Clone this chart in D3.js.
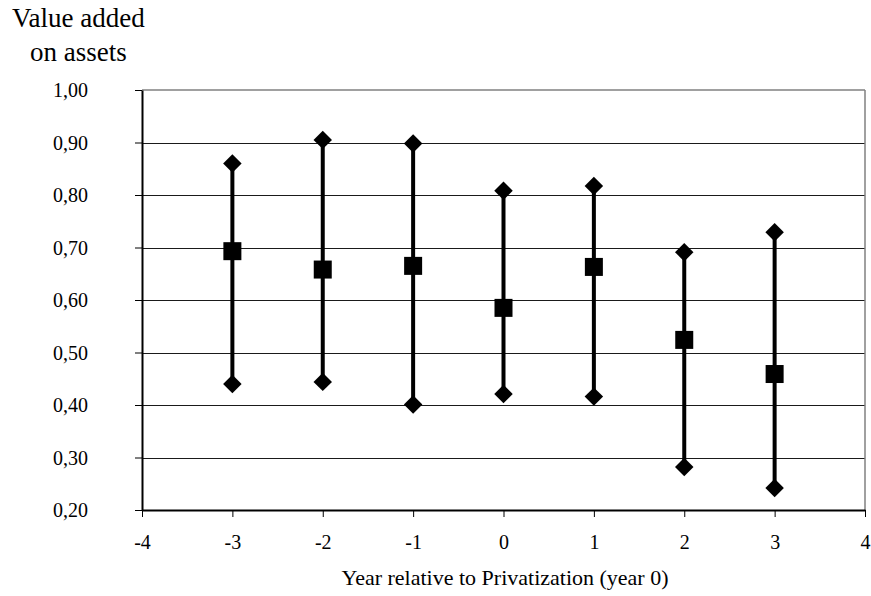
<!DOCTYPE html>
<html>
<head>
<meta charset="utf-8">
<script src="https://cdn.jsdelivr.net/npm/d3@7"></script>
<style>
  html, body { margin: 0; padding: 0; background: #fff; }
  svg { display: block; }
  svg text { font-family: 'Liberation Serif', 'Times New Roman', Times, serif; fill: #000; }
</style>
</head>
<body>
<svg id="chart" width="871" height="596"></svg>
<script>
const years = [-3, -2, -1, 0, 1, 2, 3];
const highValues = [0.860, 0.905, 0.898, 0.808, 0.817, 0.691, 0.729];
const meanValues = [0.693, 0.658, 0.665, 0.585, 0.663, 0.524, 0.459];
const lowValues  = [0.440, 0.444, 0.401, 0.421, 0.416, 0.282, 0.242];
const xTicks = [-4, -3, -2, -1, 0, 1, 2, 3, 4];
const yTicks = [0.2, 0.3, 0.4, 0.5, 0.6, 0.7, 0.8, 0.9, 1.0];

const SERIF = "'Liberation Serif', 'Times New Roman', Times, serif";
const svg = d3.select("#chart").style("font-family", SERIF);
const pLeft = 142, pRight = 865, pTop = 90, pBottom = 510;

const x = d3.scaleLinear().domain([-4, 4]).range([pLeft, pRight]);
const y = d3.scaleLinear().domain([0.2, 1.0]).range([pBottom, pTop]);
const fmt = v => d3.format(".2f")(v).replace(".", ",");

// gridlines
svg.append("g").selectAll("line")
  .data(yTicks.filter(v => v > 0.2 && v < 1.0))
  .join("line")
  .attr("x1", pLeft).attr("x2", pRight)
  .attr("y1", d => Math.round(y(d)) + 0.5).attr("y2", d => Math.round(y(d)) + 0.5)
  .attr("stroke", "#1a1a1a").attr("stroke-width", 1);

// top & right border (gray)
svg.append("line").attr("x1", pLeft).attr("x2", pRight).attr("y1", pTop).attr("y2", pTop)
  .attr("stroke", "#808080").attr("stroke-width", 1.5);
svg.append("line").attr("x1", pRight).attr("x2", pRight).attr("y1", pTop).attr("y2", pBottom)
  .attr("stroke", "#808080").attr("stroke-width", 1.5);

// y axis
const yAxis = d3.axisLeft(y).tickValues(yTicks).tickFormat(fmt).tickSize(7).tickPadding(47).tickSizeOuter(0);
const gy = svg.append("g").attr("transform", `translate(${pLeft},0)`).call(yAxis);
gy.attr("font-family", null).style("font-family", SERIF);
gy.select(".domain").attr("stroke", "#000").attr("stroke-width", 2);
gy.selectAll(".tick line").attr("stroke", "#000").attr("stroke-width", 1);
gy.selectAll(".tick text").attr("font-size", 20).style("font-family", SERIF).attr("dy", "0.33em");

// x axis
const xAxis = d3.axisBottom(x).tickValues(xTicks).tickFormat(d => d3.format("d")(d).replace("−", "-")).tickSize(7).tickPadding(18).tickSizeOuter(0);
const gx = svg.append("g").attr("transform", `translate(0,${pBottom})`).call(xAxis);
gx.attr("font-family", null).style("font-family", SERIF);
gx.select(".domain").attr("stroke", "#000").attr("stroke-width", 2);
gx.selectAll(".tick line").attr("stroke", "#000").attr("stroke-width", 1);
gx.selectAll(".tick text").attr("font-size", 20).style("font-family", SERIF);

// stems
const data = years.map((yr, i) => ({ yr, hi: highValues[i], mean: meanValues[i], lo: lowValues[i] }));
svg.append("g").selectAll("line")
  .data(data).join("line")
  .attr("x1", d => x(d.yr)).attr("x2", d => x(d.yr))
  .attr("y1", d => y(d.hi)).attr("y2", d => y(d.lo))
  .attr("stroke", "#000").attr("stroke-width", 4);

// diamonds
const diamond = d3.symbol().type(d3.symbolSquare).size(170);
const ends = data.flatMap(d => [{ yr: d.yr, v: d.hi }, { yr: d.yr, v: d.lo }]);
svg.append("g").selectAll("path")
  .data(ends).join("path")
  .attr("d", diamond)
  .attr("transform", d => `translate(${x(d.yr)},${y(d.v)}) rotate(45)`)
  .attr("fill", "#000");

// squares
svg.append("g").selectAll("rect")
  .data(data).join("rect")
  .attr("x", d => x(d.yr) - 9).attr("y", d => y(d.mean) - 9)
  .attr("width", 18).attr("height", 18)
  .attr("fill", "#000");

// titles
svg.append("text").attr("x", 12).attr("y", 27).attr("font-size", 27).style("font-family", SERIF).text("Value added");
svg.append("text").attr("x", 30).attr("y", 61).attr("font-size", 27).style("font-family", SERIF).text("on assets");
svg.append("text").attr("x", 505).attr("y", 585).attr("text-anchor", "middle")
  .attr("font-size", 22).style("font-family", SERIF).text("Year relative to Privatization (year 0)");
</script>
</body>
</html>
